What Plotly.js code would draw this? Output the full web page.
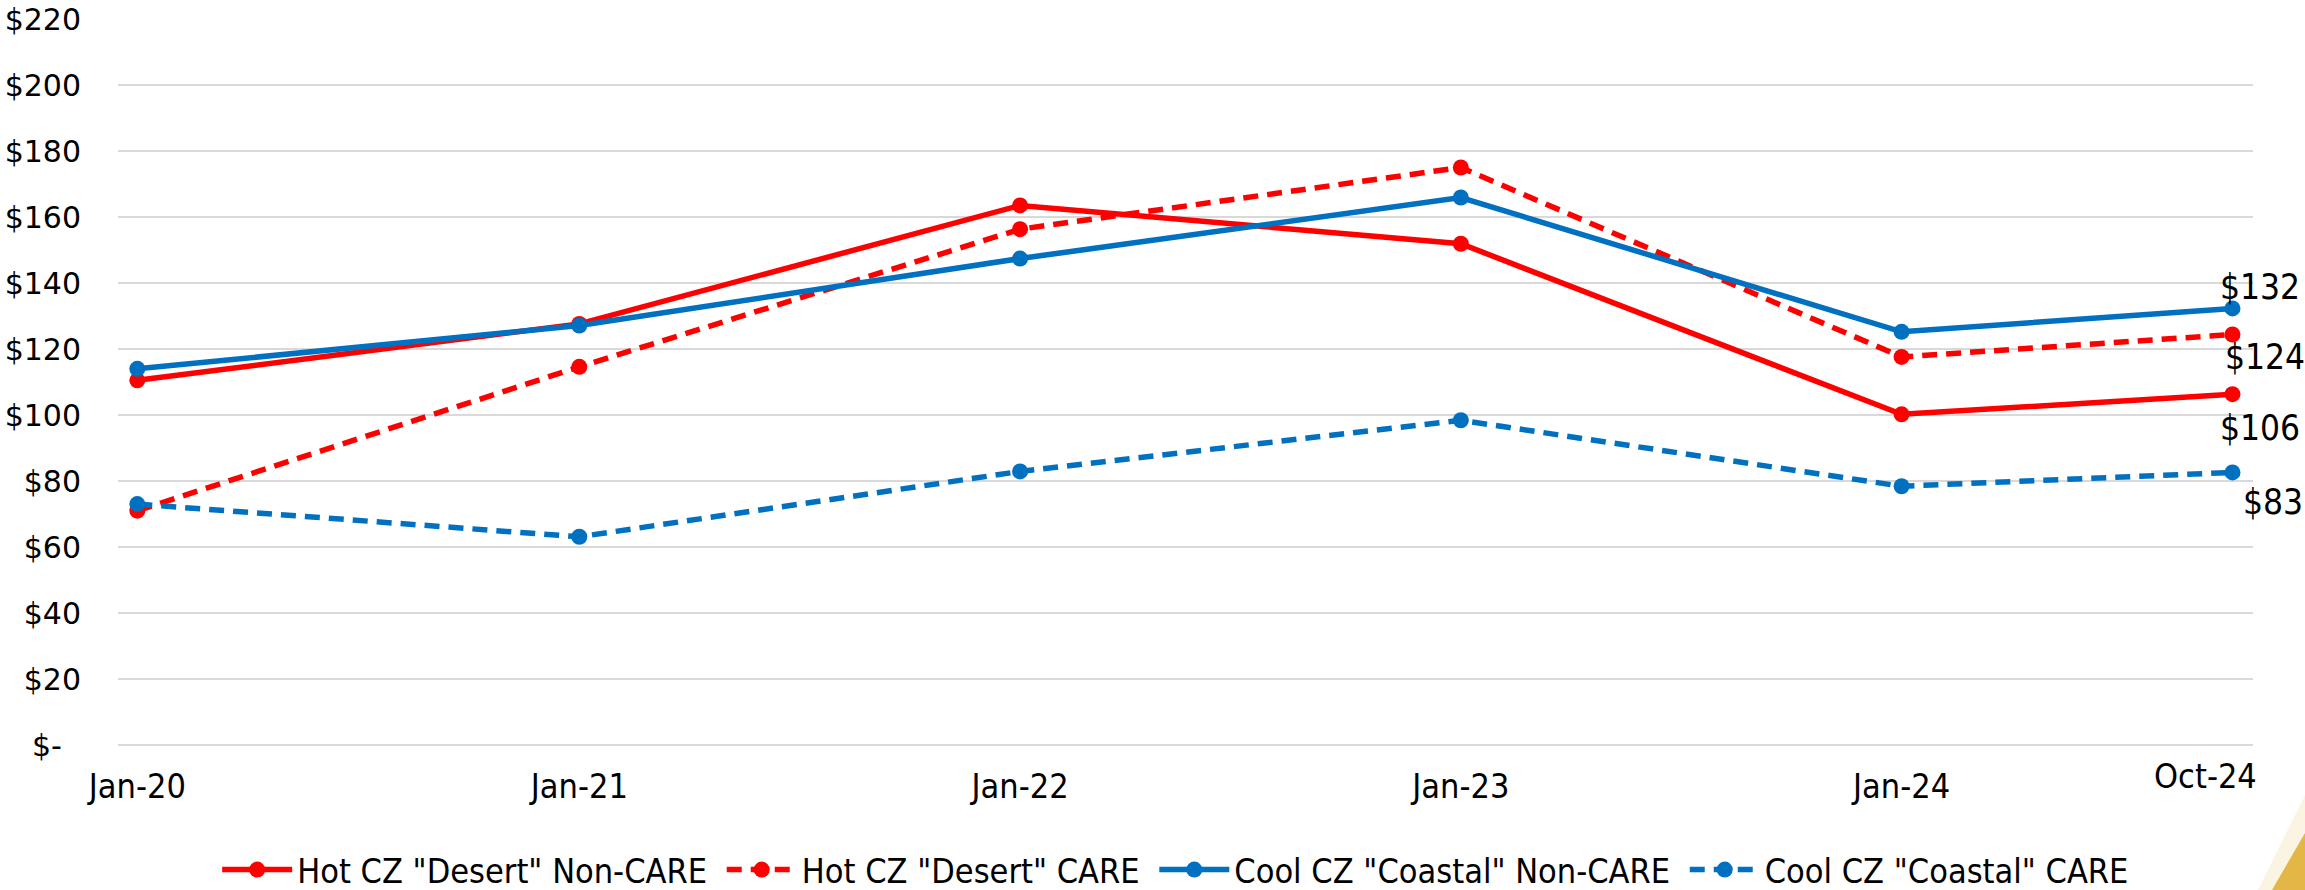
<!DOCTYPE html>
<html>
<head>
<meta charset="utf-8">
<script src="https://cdn.plot.ly/plotly-3.0.1.min.js"></script>
<style>html,body{margin:0;padding:0;background:#fff;}#chart{width:2305px;height:890px;}</style>
</head>
<body>
<div id="chart"></div>
<script>
// ---- data ----
const dates = ['2020-01-01','2021-01-01','2022-01-01','2023-01-01','2024-01-01','2024-10-01'];
const xTickText = ['Jan-20','Jan-21','Jan-22','Jan-23','Jan-24','Oct-24'];
const hotNonCare  = [110.5, 127.6, 163.5, 151.9, 100.2, 106.3];
const hotCare     = [71.0, 114.6, 156.3, 175.0, 117.6, 124.4];
const coolNonCare = [114.0, 127.1, 147.4, 165.9, 125.2, 132.3];
const coolCare    = [73.0, 63.1, 82.9, 98.4, 78.4, 82.6];
const seriesNames = ['Hot CZ "Desert" Non-CARE','Hot CZ "Desert" CARE','Cool CZ "Coastal" Non-CARE','Cool CZ "Coastal" CARE'];
const yTickVals = [0,20,40,60,80,100,120,140,160,180,200,220];
const yTickText = ['$-\u00a0\u00a0','$20','$40','$60','$80','$100','$120','$140','$160','$180','$200','$220'];

const RED = '#FF0000', BLUE = '#0070C0';
const condFont = 'Liberation Sans Narrow, DejaVu Sans Condensed, Arial Narrow, sans-serif';
const DASH = '15px,9px';

function tr(y, name, color, dash){
  return {x: dates, y: y, name: name + '\u00a0', type:'scatter', mode:'lines+markers',
    line:{color:color, width:5.5, dash:dash}, marker:{color:color, size:16, symbol:'circle'},
    hoverinfo:'skip'};
}
const data = [
  tr(hotNonCare, seriesNames[0], RED, 'solid'),
  tr(hotCare, seriesNames[1], RED, DASH),
  tr(coolNonCare, seriesNames[2], BLUE, 'solid'),
  tr(coolCare, seriesNames[3], BLUE, DASH)
];

// end-point labels
const last = dates.length - 1;
const labelSeries = [coolNonCare, hotCare, hotNonCare, coolCare];
const labelShift = [[28,21],[33,-23],[28,-34],[41,-30]];
const annotations = labelSeries.map((s,i)=>({
  x: dates[last], y: s[last], xref:'x', yref:'y',
  text: '$' + Math.round(s[last]), showarrow:false,
  xshift: labelShift[i][0], yshift: labelShift[i][1],
  font:{family:condFont, size:35, color:'#000'}
}));
// last category label (offset like the source)
annotations.push({x: dates[last], y: 0, xref:'x', yref:'y', text: xTickText[last], showarrow:false,
  xshift:-27, yshift:-31, font:{family:condFont, size:34, color:'#000'}});

// plot-area geometry for decorative shapes
const L = 118, R = 52, T = 19, B = 145, W = 2305, H = 890;
const pw = W - L - R, ph = H - T - B;
const px = v => (v - L) / pw;
const py = v => (H - B - v) / ph;

const layout = {
  width: W, height: H,
  margin:{l:L, r:R, t:T, b:B},
  paper_bgcolor:'#fff', plot_bgcolor:'#fff',
  showlegend:true,
  xaxis:{type:'date', range:['2019-12-16','2024-10-18'],
    tickvals: dates.slice(0,last), ticktext: xTickText.slice(0,last),
    ticks:'outside', ticklen:11, tickcolor:'rgba(0,0,0,0)',
    showgrid:false, zeroline:false, showline:false,
    tickfont:{family:condFont, size:34, color:'#000'}, fixedrange:true},
  yaxis:{range:[0,220], tickvals:yTickVals, ticktext:yTickText,
    ticks:'outside', ticklen:30, tickcolor:'rgba(0,0,0,0)',
    showgrid:true, gridcolor:'#D9D9D9', gridwidth:2,
    zeroline:true, zerolinecolor:'#D9D9D9', zerolinewidth:2, showline:false,
    tickfont:{family:'DejaVu Sans, sans-serif', size:30, color:'#000'}, fixedrange:true},
  legend:{orientation:'h', x:0.512, xanchor:'center', xref:'container', y:1 - 870/890, yanchor:'middle', yref:'container',
    font:{family:condFont, size:34, color:'#000'}, itemwidth:70, traceorder:'normal'},
  annotations: annotations,
  shapes:[
    {type:'path', xref:'paper', yref:'paper', layer:'below',
     path:`M ${px(2258)} ${py(890)} L ${px(2305)} ${py(795)} L ${px(2305)} ${py(890)} Z`,
     fillcolor:'#FBF4E2', line:{width:0}},
    {type:'path', xref:'paper', yref:'paper', layer:'above',
     path:`M ${px(2272)} ${py(890)} L ${px(2305)} ${py(833)} L ${px(2305)} ${py(890)} Z`,
     fillcolor:'#E2B746', line:{width:0}}
  ]
};

Plotly.newPlot('chart', data, layout, {displayModeBar:false, staticPlot:true});
</script>
</body>
</html>
